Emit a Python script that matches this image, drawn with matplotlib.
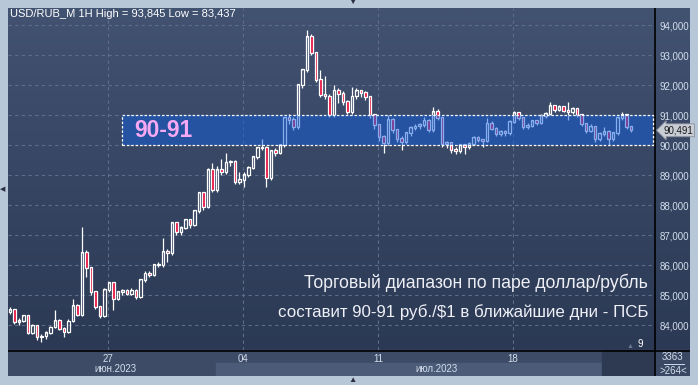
import numpy as np
import matplotlib
matplotlib.use("Agg")
import matplotlib.pyplot as plt
from matplotlib.patches import Rectangle

plt.rcParams['font.family'] = ['Liberation Sans', 'DejaVu Sans']

# --- данные: часовые свечи USD/RUB (закрытие, максимум, минимум) ---
first_open = 84.45
closes = [84.5, 84.1, 84.15, 84.3, 83.75, 83.97, 83.6, 83.62, 83.75, 83.92,
          84.15, 83.88, 83.78, 84.12, 84.65, 84.35, 86.4, 85.9, 85.1, 84.6,
          84.3, 85.17, 85.4, 84.87, 85.1, 85.15, 85.05, 85.15, 84.93, 85.5,
          85.73, 85.68, 86.0, 86.0, 86.45, 86.4, 87.4, 87.1, 87.25, 87.5,
          87.35, 87.8, 88.4, 87.95, 89.17, 88.5, 89.17, 89.1, 89.43, 89.45,
          88.77, 88.85, 89.0, 89.25, 89.6, 89.9, 89.93, 88.9, 89.8, 89.75,
          90.0, 90.9, 90.85, 90.6, 92.0, 92.5, 93.6, 93.07, 92.17, 91.67,
          91.63, 91.0, 91.83, 91.7, 91.45, 91.1, 91.63, 91.8, 91.75, 91.6,
          91.0, 90.67, 90.27, 90.07, 90.85, 90.5, 90.2, 90.1, 90.4, 90.57,
          90.62, 90.67, 90.83, 90.5, 91.1, 90.9, 90.03, 90.07, 89.85, 89.8,
          90.0, 89.93, 90.05, 90.25, 90.17, 90.13, 90.73, 90.55, 90.37, 90.45,
          90.4, 90.77, 91.07, 90.9, 90.6, 90.65, 90.8, 90.73, 90.97, 91.05,
          91.3, 91.17, 91.27, 91.15, 91.1, 91.2, 91.0, 90.7, 90.47, 90.6,
          90.2, 90.37, 90.45, 90.2, 90.4, 90.9, 91.0, 90.6, 90.491]
highs = [84.6, 84.55, 84.25, 84.35, 84.35, 84.05, 84.0, 83.7, 83.8, 83.98,
         84.5, 84.2, 83.92, 84.2, 84.87, 84.7, 87.27, 86.5, 85.95, 85.15,
         84.65, 85.25, 85.45, 85.42, 85.15, 85.2, 85.2, 85.25, 85.2, 85.55,
         85.8, 85.8, 86.05, 86.1, 86.9, 86.55, 87.45, 87.45, 87.3, 87.55,
         87.55, 87.85, 88.45, 88.45, 89.25, 89.4, 89.3, 89.55, 89.73, 89.5,
         89.5, 89.1, 89.1, 89.3, 89.65, 89.95, 90.2, 89.97, 89.85, 89.9,
         90.05, 90.95, 91.05, 90.95, 92.05, 92.55, 93.845, 93.7, 93.1, 92.5,
         92.3, 91.7, 92.0, 91.9, 91.8, 91.5, 91.93, 91.9, 91.85, 91.8,
         91.65, 91.05, 90.7, 90.35, 91.0, 90.9, 90.55, 90.3, 90.45, 90.62,
         90.7, 90.75, 90.95, 90.88, 91.27, 91.2, 90.95, 90.15, 90.1, 89.95,
         90.05, 90.05, 90.1, 90.3, 90.3, 90.2, 90.9, 90.8, 90.6, 90.5,
         90.5, 90.82, 91.12, 91.1, 90.95, 90.72, 90.85, 90.85, 91.02, 91.1,
         91.43, 91.35, 91.32, 91.3, 91.43, 91.27, 91.25, 91.05, 90.75, 90.7,
         90.65, 90.42, 90.6, 90.5, 90.45, 90.95, 91.1, 91.05, 90.65]
lows = [84.38, 84.05, 84.0, 84.1, 83.7, 83.7, 83.5, 83.437, 83.55, 83.7,
        83.9, 83.82, 83.6, 83.75, 84.1, 84.3, 84.3, 85.6, 85.0, 84.55,
        84.25, 84.28, 85.1, 84.5, 84.85, 85.0, 85.0, 85.0, 84.88, 84.9,
        85.45, 85.6, 85.65, 85.95, 85.95, 86.1, 86.35, 87.0, 87.0, 87.2,
        87.25, 87.3, 87.75, 87.85, 87.9, 88.45, 88.45, 89.0, 89.05, 89.3,
        88.7, 88.7, 88.6, 88.95, 89.2, 89.55, 89.85, 88.6, 88.85, 89.65,
        89.7, 89.95, 90.7, 90.5, 90.55, 91.9, 92.45, 93.0, 92.1, 91.6,
        91.55, 90.95, 90.95, 91.4, 91.35, 91.05, 91.05, 91.55, 91.6, 91.5,
        90.9, 90.55, 90.15, 89.75, 90.0, 90.4, 90.1, 89.85, 90.05, 90.3,
        90.5, 90.55, 90.6, 90.45, 90.45, 90.85, 89.95, 89.9, 89.75, 89.7,
        89.75, 89.7, 89.88, 90.0, 90.1, 89.95, 90.1, 90.5, 90.3, 90.3,
        90.3, 90.35, 90.72, 90.85, 90.55, 90.55, 90.6, 90.68, 90.7, 90.9,
        91.0, 91.1, 91.12, 91.1, 90.85, 91.05, 90.95, 90.65, 90.4, 90.42,
        90.1, 90.15, 90.3, 90.0, 90.15, 90.35, 90.85, 90.55, 90.45]

price_levels = [84, 85, 86, 87, 88, 89, 90, 91, 92, 93, 94]
day_ticks = [21.8, 51.8, 81.8, 111.8]          # позиции меток недель (индекс свечи)
day_labels = ['27', '04', '11', '18']
month_labels = ['июн.2023', 'июл.2023']
range_low, range_high = 90, 91
range_label = '90-91'
caption = ['Торговый диапазон по паре доллар/рубль',
           'составит 90-91 руб./$1 в ближайшие дни - ПСБ']

W, H = 698, 385


def fx(px):
    return px / W


def fy(py):
    return 1 - py / H


fig = plt.figure(figsize=(W / 100, H / 100), dpi=100, facecolor='#b7c7d7')

# фон: градиент + нижняя панель
bg = fig.add_axes([fx(8), fy(376), fx(690 - 8), (376 - 8) / H])
bg.axis('off')
grad = np.linspace(0, 1, 256)[:, None]
cmap = matplotlib.colors.LinearSegmentedColormap.from_list('g', ['#425271', '#2b3954'])
bg.imshow(grad, cmap=cmap, aspect='auto', extent=[8, 690, 350, 8], zorder=0)
bg.add_patch(Rectangle((8, 350), 682, 26, color='#3d4b66', zorder=1))
bg.add_patch(Rectangle((216, 363), 386, 13, color='#4b5b78', zorder=2))
bg.add_patch(Rectangle((602, 350), 53, 26, color='#2e3a52', zorder=2))
bg.add_patch(Rectangle((655, 350), 35, 26, color='#3a4863', zorder=2))
bg.plot([655, 655], [8, 376], color='black', lw=1.2, zorder=3)
bg.plot([8, 690], [350.5, 350.5], color='black', lw=1.2, zorder=3)
bg.plot([664, 684], [364, 364], color='#d0dcec', lw=0.7, zorder=3)
bg.set_xlim(8, 690)
bg.set_ylim(376, 8)

# основной график
ax = fig.add_axes([fx(8), fy(350), fx(655 - 8), (350 - 8) / H])
ax.patch.set_alpha(0)
for s in ax.spines.values():
    s.set_visible(False)

n = len(closes)
idx = np.arange(n)
opens = np.array([first_open] + closes[:-1])
closes_a = np.array(closes)
highs_a = np.array(highs)
lows_a = np.array(lows)
top = np.maximum(opens, closes_a)
bot = np.minimum(opens, closes_a)
up = closes_a >= opens

ax.vlines(idx, top, highs_a, color='white', lw=0.9, zorder=3)
ax.vlines(idx, lows_a, bot, color='white', lw=0.9, zorder=3)
ax.bar(idx[up], (top - bot)[up] + 0.02, bottom=bot[up], width=0.6,
       facecolor='none', edgecolor='white', lw=0.9, zorder=3)
ax.bar(idx[~up], (top - bot)[~up] + 0.02, bottom=bot[~up], width=0.6,
       facecolor='#e8103c', edgecolor='white', lw=0.9, zorder=3)

ax.set_xlim(-0.44, 143.33)
ax.set_ylim(83.167, 94.567)

# торговый диапазон
band = Rectangle((24.9, range_low), 118.0, range_high - range_low,
                 facecolor='#125ede', alpha=0.5, edgecolor='none', zorder=4)
ax.add_patch(band)
ax.add_patch(Rectangle((24.9, range_low), 118.0, range_high - range_low,
                       facecolor='none', edgecolor='white', lw=0.9,
                       linestyle=(0, (2, 1.5)), zorder=5))
ax.text(27.6, (range_low + range_high) / 2, range_label, color='#f6a8f2',
        fontsize=16.5, fontweight='bold', va='center', ha='left', zorder=6)

# сетка и оси
ax.set_yticks(price_levels)
ax.set_yticklabels([f'{v:.3f}'.replace('.', ',') for v in price_levels])
ax.yaxis.tick_right()
ax.set_xticks(day_ticks)
ax.set_xticklabels(day_labels)
ax.tick_params(axis='y', length=0, pad=3, labelsize=7, labelcolor='#d4deec')
ax.tick_params(axis='x', length=0, pad=3, labelsize=7, labelcolor='#d4deec')
ax.grid(color='#5d6d8a', linestyle=(0, (3, 3)), lw=0.8, zorder=1)
ax.set_axisbelow(True)

# последняя цена
last = closes[-1]
ax.annotate(f'{last:.3f}'.replace('.', ','), xy=(1.0, last),
            xycoords=('axes fraction', 'data'), xytext=(6, 0),
            textcoords='offset points', va='center', ha='left', fontsize=7,
            color='#1a1a1a', zorder=10, annotation_clip=False,
            bbox=dict(boxstyle='larrow,pad=0.15', fc='#c9cdd5', ec='#8a8f99', lw=0.6))

# подпись
ax.text(0.989, 0.196, caption[0], transform=ax.transAxes, ha='right', va='center',
        fontsize=12.7, color='#eef0f6', zorder=6)
ax.text(0.989, 0.111, caption[1], transform=ax.transAxes, ha='right', va='center',
        fontsize=12.2, color='#eef0f6', zorder=6)

# заголовок
title = f'USD/RUB_M 1H High = {max(highs):.3f} Low = {min(lows):.3f}'.replace('.', ',')
fig.text(fx(10), fy(14), title, color='white', fontsize=8, va='center', ha='left')

# подписи месяцев и служебные значения
fig.text(fx(115), fy(369), month_labels[0], color='#d4deec', fontsize=7, ha='center', va='center')
fig.text(fx(436), fy(369), month_labels[1], color='#d4deec', fontsize=7, ha='center', va='center')
fig.text(fx(673), fy(357), '3363', color='#d4deec', fontsize=7, ha='center', va='center')
fig.text(fx(673), fy(371), '>264<', color='#d4deec', fontsize=7, ha='center', va='center')
fig.text(fx(640), fy(344), '9', color='white', fontsize=7, ha='center', va='center')
fig.text(fx(630), fy(346), '▲', color='#6a7890', fontsize=5, ha='center', va='center')
fig.text(fx(352), fy(381), '▲', color='#2a3040', fontsize=6, ha='center', va='center')
fig.text(fx(352), fy(2), '▼', color='#2a3040', fontsize=6, ha='center', va='center')
fig.text(fx(3), fy(190), '◀', color='#2a3040', fontsize=5, ha='center', va='center')

fig.savefig('out.png', dpi=100, facecolor=fig.get_facecolor())
